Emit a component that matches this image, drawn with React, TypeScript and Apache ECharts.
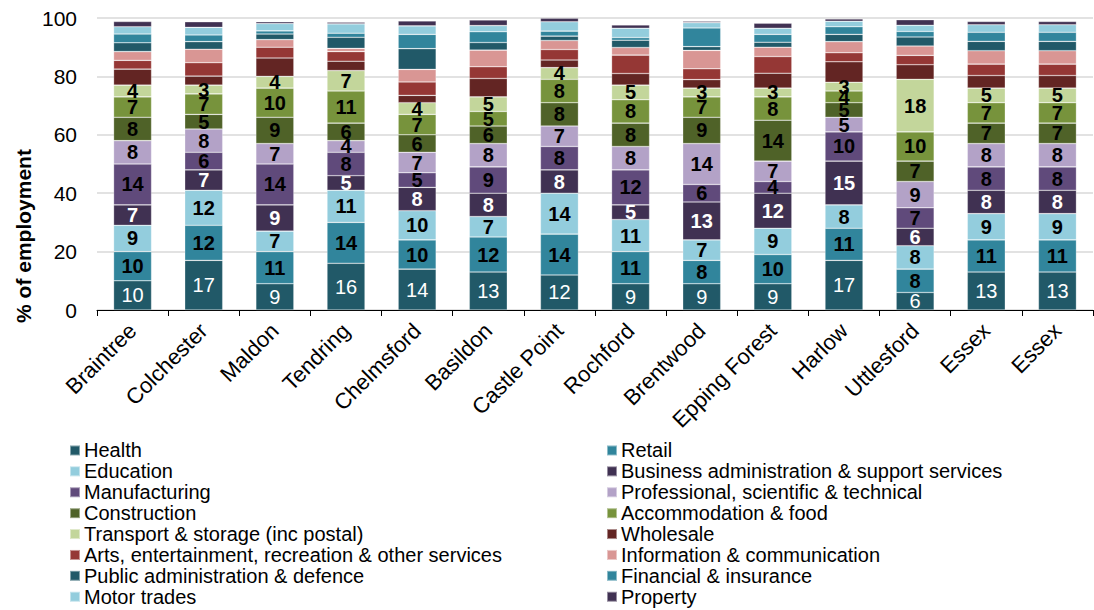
import React, { useEffect, useRef } from "react";
import * as echarts from "echarts";

const categories = [
  "Braintree", "Colchester", "Maldon", "Tendring", "Chelmsford", "Basildon", "Castle Point",
  "Rochford", "Brentwood", "Epping Forest", "Harlow", "Uttlesford", "Essex", "Essex",
];

const health = [10, 17, 9, 16, 14, 13, 12, 9, 9, 9, 17, 6, 13, 13];
const retail = [10, 12, 11, 14, 10, 12, 14, 11, 8, 10, 11, 8, 11, 11];
const education = [9, 12, 7, 11, 10, 7, 14, 11, 7, 9, 8, 8, 9, 9];
const businessAdmin = [7, 7, 9, 5, 8, 8, 8, 5, 13, 12, 15, 6, 8, 8];
const manufacturing = [14, 6, 14, 8, 5, 9, 8, 12, 6, 4, 10, 7, 8, 8];
const professional = [8, 8, 7, 4, 7, 8, 7, 8, 14, 7, 5, 9, 8, 8];
const construction = [8, 5, 9, 6, 6, 6, 8, 8, 9, 14, 5, 7, 7, 7];
const accommodation = [7, 7, 10, 11, 7, 5, 8, 8, 7, 8, 4, 10, 7, 7];
const transport = [4, 3, 4, 7, 4, 5, 4, 5, 3, 3, 3, 18, 5, 5];
const wholesale = [5.5, 3.1, 6.3, 3.2, 2.5, 6.3, 2.6, 4.0, 2.9, 5.1, 7.0, 5.0, 4.3, 4.3];
const arts = [3.0, 4.6, 3.7, 3.3, 4.6, 4.0, 3.6, 6.3, 3.7, 5.7, 3.1, 3.2, 3.9, 3.9];
const information = [3.0, 4.6, 2.6, 1.1, 4.3, 5.7, 3.1, 2.6, 6.3, 3.2, 3.8, 3.2, 4.6, 4.6];
const publicAdmin = [3.0, 2.6, 1.9, 3.8, 7.1, 2.6, 1.5, 2.5, 1.3, 1.7, 2.5, 3.1, 3.2, 3.2];
const financial = [3.0, 2.3, 1.1, 1.4, 4.9, 3.7, 1.7, 0.9, 6.4, 2.7, 2.6, 1.9, 3.1, 3.1];
const motorTrades = [2.5, 2.6, 2.5, 3.2, 2.9, 2.1, 3.2, 3.2, 1.8, 2.1, 1.9, 2.1, 2.6, 2.6];
const property = [1.8, 1.9, 0.6, 0.6, 1.7, 1.9, 1.2, 1.1, 0.5, 1.7, 0.8, 1.9, 1.1, 1.1];

const yTicks = [0, 20, 40, 60, 80, 100];

// name, data, color, label mode ("white" | "whiteBold" | "black" | none)
const seriesDefs: [string, number[], string, string][] = [
  ["Health", health, "#215968", "white"],
  ["Retail", retail, "#31859C", "black"],
  ["Education", education, "#93CDDD", "black"],
  ["Business administration & support services", businessAdmin, "#403152", "whiteBold"],
  ["Manufacturing", manufacturing, "#604A7B", "black"],
  ["Professional, scientific & technical", professional, "#B3A2C7", "black"],
  ["Construction", construction, "#4F6228", "black"],
  ["Accommodation & food", accommodation, "#77933C", "black"],
  ["Transport & storage (inc postal)", transport, "#C3D69B", "black"],
  ["Wholesale", wholesale, "#632523", ""],
  ["Arts, entertainment, recreation & other services", arts, "#953735", ""],
  ["Information & communication", information, "#D99694", ""],
  ["Public administration & defence", publicAdmin, "#215968", ""],
  ["Financial & insurance", financial, "#31859C", ""],
  ["Motor trades", motorTrades, "#93CDDD", ""],
  ["Property", property, "#403152", ""],
];

const FONT = "'Liberation Sans', Arial, Helvetica, sans-serif";

export default function App() {
  const ref = useRef<HTMLDivElement>(null);

  useEffect(() => {
    if (!ref.current) return;
    const chart = echarts.init(ref.current, null, { renderer: "svg" });

    const names = seriesDefs.map((s) => s[0]);
    const leftNames = names.filter((_, i) => i % 2 === 0);
    const rightNames = names.filter((_, i) => i % 2 === 1);

    const legendCommon = {
      orient: "vertical",
      top: 440,
      padding: 0,
      itemGap: 0,
      itemWidth: 10,
      itemHeight: 10,
      icon: "rect",
      textStyle: { fontFamily: FONT, fontSize: 20, color: "#000", lineHeight: 20.9, padding: [0, 0, 0, -1] },
      selectedMode: false,
    };

    chart.setOption({
      animation: false,
      grid: { left: 97, right: 1, top: 18, bottom: 300, containLabel: false },
      legend: [
        { ...legendCommon, left: 69, data: leftNames },
        { ...legendCommon, left: 606, data: rightNames },
      ],
      graphic: [
        {
          type: "text",
          x: 23,
          y: 236,
          rotation: Math.PI / 2,
          style: {
            text: "% of employment",
            font: `bold 21px ${FONT}`,
            fill: "#000",
            textAlign: "center",
            textVerticalAlign: "middle",
          },
        },
      ],
      xAxis: {
        type: "category",
        data: categories,
        axisLine: { lineStyle: { color: "#000", width: 1 } },
        axisTick: { show: true, length: 6, lineStyle: { color: "#000" } },
        axisLabel: {
          rotate: 45,
          interval: 0,
          margin: 17,
          fontFamily: FONT,
          fontSize: 22,
          color: "#000",
        },
      },
      yAxis: {
        type: "value",
        min: yTicks[0],
        max: yTicks[yTicks.length - 1],
        interval: 20,
        axisLine: { show: false },
        axisTick: { show: false },
        splitLine: { lineStyle: { color: "#D9D9D9", width: 1.5 } },
        axisLabel: { fontFamily: FONT, fontSize: 21, color: "#000", margin: 20 },
      },
      series: seriesDefs.map(([name, data, color, mode]) => ({
        name,
        type: "bar",
        stack: "total",
        data,
        barWidth: 38,
        itemStyle: { color, borderColor: "rgba(255,255,255,0.45)", borderWidth: 0.6 },
        label: mode
          ? {
              show: true,
              position: "inside",
              formatter: (p: any) => String(Math.round(p.value)),
              fontFamily: FONT,
              fontSize: 20,
              fontWeight: mode === "white" ? "normal" : "bold",
              color: mode === "black" ? "#000" : "#fff",
              textBorderWidth: 0,
            }
          : { show: false },
        emphasis: { disabled: true },
      })),
    });

    return () => chart.dispose();
  }, []);

  return (
    <div
      ref={ref}
      style={{ position: "absolute", left: 0, top: 0, width: 1094, height: 610 }}
    />
  );
}
